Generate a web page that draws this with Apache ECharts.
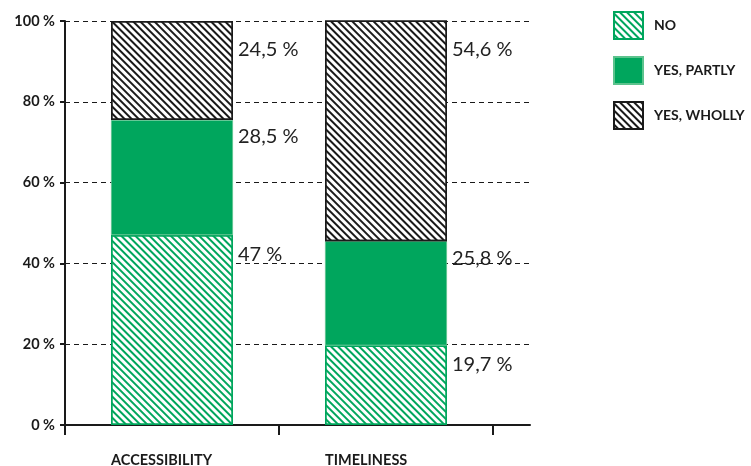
<!DOCTYPE html>
<html>
<head>
<meta charset="utf-8">
<script src="https://cdn.jsdelivr.net/npm/echarts@6/dist/echarts.min.js"></script>
<style>
  html, body { margin: 0; padding: 0; background: #fff; }
  #chart { width: 751px; height: 466px; }
</style>
</head>
<body>
<div id="chart"></div>
<script>
// Share of answers per criterion (percent)
const categories = ['ACCESSIBILITY', 'TIMELINESS'];
const noValues = [47, 19.7];
const partlyValues = [28.5, 25.8];
const whollyValues = [24.5, 54.6];
const seriesNames = ['NO', 'YES, PARTLY', 'YES, WHOLLY'];

const GREEN = '#00a65d';
const INK = '#1a1a1a';
const BAR_WIDTH = 122;

const hatch = (color) => ({
  symbol: 'rect',
  symbolSize: 1,
  rotation: Math.PI / 4,
  dashArrayX: [1, 0],
  dashArrayY: [2, 2.6],
  color: color
});

const fmt = (p) => String(p.value).replace('.', ',') + ' %';
const valueLabel = (dy) => ({
  show: true,
  position: ['100%', 0],
  align: 'left',
  verticalAlign: 'top',
  padding: [dy, 0, 0, 5],
  formatter: fmt,
  fontFamily: 'Lato',
  fontSize: 20,
  color: '#222'
});

const chart = echarts.init(document.getElementById('chart'), null, { renderer: 'canvas' });

chart.setOption({
  animation: false,
  backgroundColor: '#fff',
  grid: [
    { left: 65, right: 258, top: 21, bottom: 41, containLabel: false, outerBoundsMode: 'none' },
    { left: 65, right: 221, top: 21, bottom: 41, containLabel: false, outerBoundsMode: 'none' }
  ],
  legend: {
    orient: 'vertical',
    left: 613,
    top: 11,
    padding: 0,
    itemWidth: 29,
    itemHeight: 27,
    itemGap: 16,
    icon: 'rect',
    data: seriesNames,
    textStyle: { fontFamily: 'Lato', fontWeight: 'bold', fontSize: 14, color: INK, padding: [0, 0, 0, 6] }
  },
  xAxis: [
    {
      type: 'category',
      gridIndex: 0,
      data: categories,
      axisLine: { lineStyle: { color: INK, width: 2 } },
      axisTick: { show: true, length: 10, lineStyle: { color: INK, width: 2 }, alignWithLabel: false },
      axisLabel: {
        margin: 28,
        align: 'center',
        // category names start at the left edge of their bar
        formatter: (v) => '{n|' + v + '}',
        rich: {
          n: { width: BAR_WIDTH, align: 'left', fontFamily: 'Lato', fontWeight: 'bold', fontSize: 14.5, color: INK }
        }
      },
      z: 3
    },
    {
      type: 'value',
      gridIndex: 1,
      min: 0,
      max: 1,
      axisLine: { show: true, onZero: false, lineStyle: { color: INK, width: 2 } },
      axisTick: { show: false },
      axisLabel: { show: false },
      splitLine: { show: false }
    }
  ],
  yAxis: [
    {
      type: 'value',
      gridIndex: 0,
      min: 0,
      max: 100,
      interval: 20,
      axisLine: { show: true, lineStyle: { color: INK, width: 2 } },
      axisTick: { show: true, length: 5, lineStyle: { color: INK, width: 2 } },
      axisLabel: { formatter: '{value} %', margin: 10, fontFamily: 'Lato', fontWeight: 'bold', fontSize: 14.5, color: INK },
      splitLine: { show: false },
      z: 3
    },
    {
      type: 'value',
      gridIndex: 1,
      min: 0,
      max: 100,
      interval: 20,
      axisLine: { show: false },
      axisTick: { show: false },
      axisLabel: { show: false },
      splitLine: { show: true, lineStyle: { color: INK, width: 1.2, type: [5, 4] } }
    }
  ],
  series: [
    {
      name: seriesNames[0],
      type: 'bar',
      stack: 'total',
      barWidth: BAR_WIDTH,
      data: noValues,
      itemStyle: { color: '#fff', borderColor: GREEN, borderWidth: 1.5, decal: hatch(GREEN) },
      label: valueLabel(9),
      z: 4
    },
    {
      name: seriesNames[1],
      type: 'bar',
      stack: 'total',
      barWidth: BAR_WIDTH,
      data: partlyValues,
      itemStyle: { color: GREEN, borderColor: '#5cc38d', borderWidth: 0.8 },
      label: valueLabel(7),
      z: 4
    },
    {
      name: seriesNames[2],
      type: 'bar',
      stack: 'total',
      barWidth: BAR_WIDTH,
      data: whollyValues,
      itemStyle: { color: '#fff', borderColor: INK, borderWidth: 1.5, decal: hatch(INK) },
      label: valueLabel(19),
      z: 4
    }
  ]
});
</script>
</body>
</html>
